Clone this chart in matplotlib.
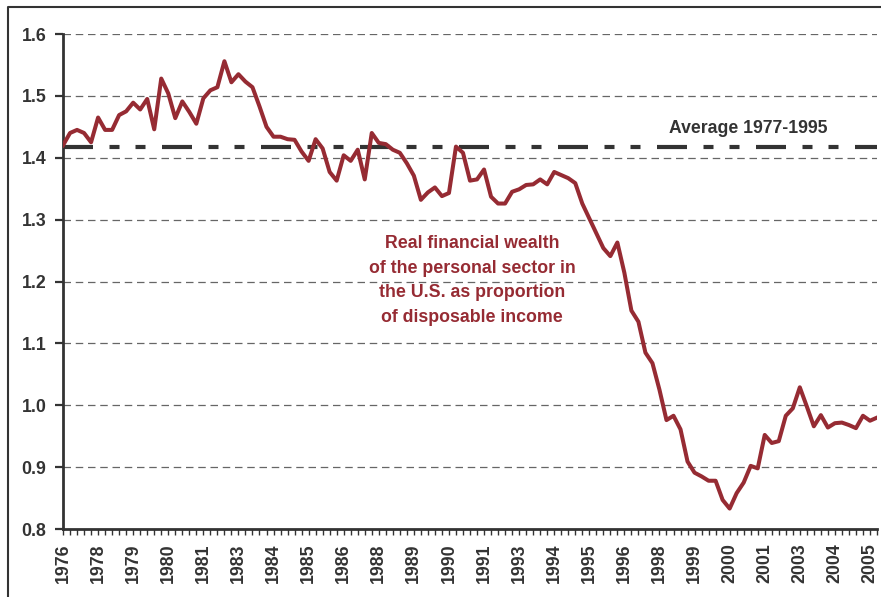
import matplotlib
matplotlib.use("Agg")
import numpy as np
from matplotlib import pyplot as plt
from matplotlib.lines import Line2D


# quarterly series, 1976Q4 .. 2005Q4
wealth_ratio = [
    1.420, 1.440, 1.445, 1.440, 1.425, 1.465, 1.445, 1.445, 1.469, 1.475,
    1.489, 1.478, 1.495, 1.446, 1.528, 1.504, 1.464, 1.491, 1.474, 1.455,
    1.496, 1.509, 1.514, 1.556, 1.522, 1.535, 1.523, 1.514, 1.483, 1.450,
    1.434, 1.434, 1.430, 1.429, 1.410, 1.395, 1.430, 1.415, 1.377, 1.363,
    1.404, 1.395, 1.413, 1.365, 1.440, 1.424, 1.422, 1.413, 1.408, 1.391,
    1.371, 1.332, 1.344, 1.352, 1.338, 1.343, 1.418, 1.408, 1.363, 1.365,
    1.381, 1.337, 1.326, 1.326, 1.345, 1.349, 1.356, 1.357, 1.365, 1.357,
    1.377, 1.372, 1.367, 1.359, 1.326, 1.302, 1.278, 1.254, 1.241, 1.263,
    1.214, 1.153, 1.135, 1.085, 1.068, 1.025, 0.976, 0.983, 0.961, 0.909,
    0.891, 0.885, 0.878, 0.878, 0.847, 0.833, 0.858, 0.875, 0.902, 0.898,
    0.952, 0.939, 0.942, 0.983, 0.995, 1.029, 0.998, 0.966, 0.984, 0.964,
    0.971, 0.972, 0.968, 0.963, 0.983, 0.975, 0.980,
]
average_1977_1995 = 1.417

# a label every 5 quarters
tick_years = ["1976", "1978", "1979", "1980", "1981", "1983", "1984", "1985",
              "1986", "1988", "1989", "1990", "1991", "1993", "1994", "1995",
              "1996", "1998", "1999", "2000", "2001", "2003", "2004", "2005"]

red = "#962b33"
dark = "#333333"

plt.rcParams["font.family"] = ["Liberation Sans", "DejaVu Sans"]
plt.rcParams["font.weight"] = "bold"

fig = plt.figure(figsize=(8.81, 5.97), dpi=100)
ax = fig.add_axes([63 / 881, 68 / 597, (877 - 63) / 881, (529 - 34) / 597])

x = np.arange(len(wealth_ratio))

# gridlines
for v in np.arange(0.9, 1.61, 0.1):
    ax.axhline(v, color="#666666", lw=0.9, ls=(0, (6, 3.8)), zorder=1)

# average line (long dash - dot - dot)
ax.plot([0, len(wealth_ratio) - 1], [average_1977_1995, average_1977_1995],
        color=dark, lw=3, ls=(0, (7.2, 3.96, 2.4, 3.84, 2.4, 3.96)),
        solid_capstyle="butt", zorder=2)
ax.plot(x, wealth_ratio, color=red, lw=2.9, zorder=3, solid_joinstyle="round")

ax.text(97.7, 1.4465, "Average 1977-1995", color=dark, fontsize=12.7,
        fontweight="bold", ha="center", va="center")
ax.text(58.3, 1.2016, "Real financial wealth\nof the personal sector in\n"
        "the U.S. as proportion\nof disposable income",
        color=red, fontsize=12.8, fontweight="bold", ha="center", va="center",
        multialignment="center", linespacing=1.6)

ax.set_xlim(0, len(wealth_ratio) - 1)
ax.set_ylim(0.8, 1.6)
ax.set_yticks(np.arange(0.8, 1.61, 0.1))
ax.set_yticklabels(["%.1f" % v for v in np.arange(0.8, 1.61, 0.1)])
ax.set_xticks(np.arange(0, 5 * len(tick_years), 5))
ax.set_xticklabels(tick_years, rotation=90)
ax.set_xticks(x, minor=True)

for s in ["top", "right"]:
    ax.spines[s].set_visible(False)
for s in ["left", "bottom"]:
    ax.spines[s].set_color(dark)
    ax.spines[s].set_linewidth(2)

ax.tick_params(axis="y", direction="out", length=6, width=1.6, color=dark,
               labelsize=12.8, labelcolor=dark, pad=6)
ax.tick_params(axis="x", which="both", direction="out", length=4.5, width=1.0,
               color=dark, labelsize=12.8, labelcolor=dark, pad=6)

# outer frame (cut by the image edge on right and bottom)
fig.add_artist(Line2D([8 / 881, 8 / 881, 1.0], [0.0, 1 - 7 / 597, 1 - 7 / 597],
                      color=dark, lw=1.5, transform=fig.transFigure))

fig.savefig("out.png", dpi=100)
